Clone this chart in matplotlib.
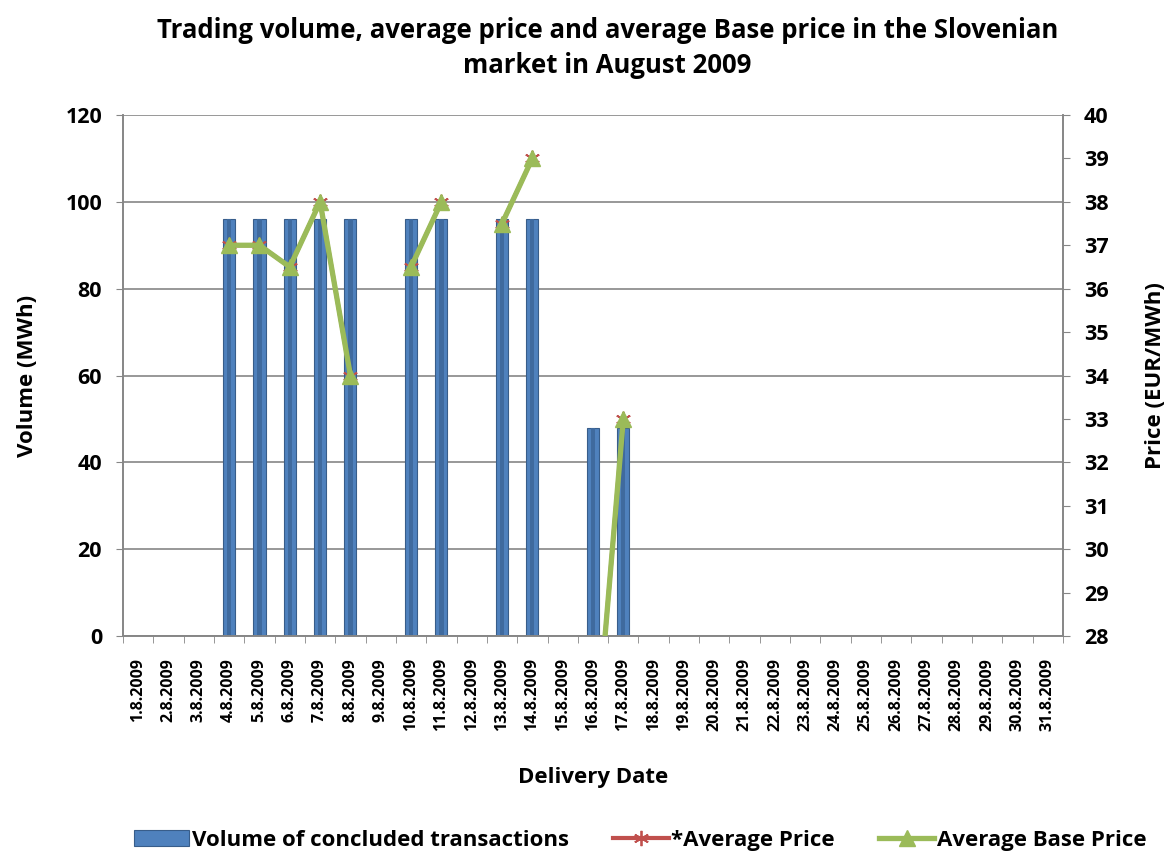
import numpy as np
import matplotlib
matplotlib.use('Agg')
from matplotlib import pyplot as plt

plt.rcParams['font.family'] = ['Open Sans', 'DejaVu Sans']
plt.rcParams['font.weight'] = 'bold'

nan = np.nan
dates = ['%d.8.2009' % d for d in range(1, 32)]
volume = [0, 0, 0, 96, 96, 96, 96, 96, 0, 96, 96, 0, 96, 96, 0, 48, 48,
          0, 0, 0, 0, 0, 0, 0, 0, 0, 0, 0, 0, 0, 0]
avg_price = [nan, nan, nan, 37, 37, 36.5, 38, 34, nan, 36.5, 38, nan, 37.5, 39, nan, 24.7, 33,
             nan, nan, nan, nan, nan, nan, nan, nan, nan, nan, nan, nan, nan, nan]
avg_base_price = [nan, nan, nan, 37, 37, 36.5, 38, 34, nan, 36.5, 38, nan, 37.5, 39, nan, 24.7, 33,
                  nan, nan, nan, nan, nan, nan, nan, nan, nan, nan, nan, nan, nan, nan]

x = np.arange(len(dates))

fig = plt.figure(figsize=(11.68, 8.52), dpi=100)
ax = fig.add_axes([123/1168, 1 - 636/852, (1063-123)/1168, (636-115)/852])
ax2 = ax.twinx()

grey = '#868686'
ax.bar(x, volume, width=0.4, color='#4F81BD', edgecolor='#385D8A', linewidth=0.8,
       zorder=2, label='Volume of concluded transactions')
# darker stripe to mimic cylinder shading
ax.bar(x, volume, width=0.14, color='#3F6A9E', linewidth=0, zorder=2.1)

ax.set_xlim(-0.5, len(dates) - 0.5)
ax.set_ylim(0, 120)
ax.set_yticks(range(0, 121, 20))
ax.grid(axis='y', color=grey, linewidth=1.2, zorder=0)
ax.set_axisbelow(True)
ax.set_xticks(x)
ax.set_xticklabels(dates, rotation=90, fontsize=11.5, fontweight='bold')
ax.set_xticks(np.arange(-0.5, len(dates), 1), minor=True)
ax.tick_params(axis='x', which='major', length=0, pad=16)
ax.tick_params(axis='x', which='minor', length=5, color=grey, direction='out')
ax.tick_params(axis='y', labelsize=15.5, length=5, color=grey, pad=10)

ax2.plot(x, avg_price, color='#C0504D', linewidth=3, marker=(6, 2, 0), markersize=11,
         markeredgewidth=1.3, zorder=3, label='*Average Price')
ax2.plot(x, avg_base_price, color='#9BBB59', linewidth=3.8, marker='^', markersize=12,
         zorder=4, label='Average Base Price')
ax2.set_ylim(28, 40)
ax2.set_yticks(range(28, 41))
ax2.tick_params(axis='y', labelsize=15.5, length=5, color=grey, pad=10)

for a in (ax, ax2):
    for s in a.spines.values():
        s.set_color(grey)
        s.set_linewidth(1.2)
    a.spines['top'].set_visible(False)

for lab in ax.get_yticklabels() + ax2.get_yticklabels():
    lab.set_fontweight('bold')

ax.set_ylabel('Volume (MWh)', fontsize=16, fontweight='bold', labelpad=20)
ax2.set_ylabel('Price (EUR/MWh)', fontsize=16, fontweight='bold', labelpad=26)
ax.set_xlabel('Delivery Date', fontsize=16, fontweight='bold', labelpad=26)

fig.suptitle('Trading volume, average price and average Base price in the Slovenian\nmarket in August 2009',
             x=0.52, fontsize=18.5, fontweight='bold', y=0.98, linespacing=1.4)

h1, l1 = ax.get_legend_handles_labels()
h2, l2 = ax2.get_legend_handles_labels()
fig.legend(h1[:1] + h2, l1[:1] + l2, loc='lower center', bbox_to_anchor=(0.548, -0.022), ncol=3,
           frameon=False, fontsize=16, handlelength=2.5, columnspacing=2.0, handletextpad=0.1)

fig.savefig('out.png', dpi=100)
